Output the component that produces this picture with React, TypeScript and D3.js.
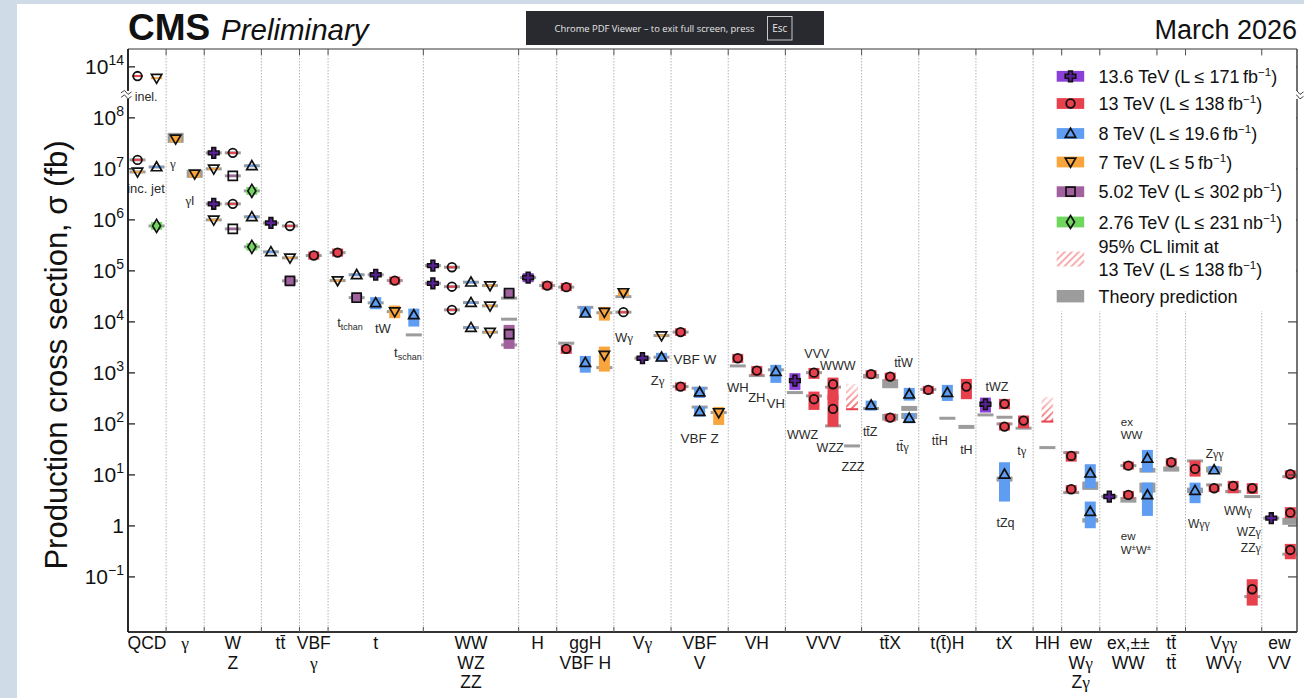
import React from "react";
import * as d3 from "d3";

const FONT = "'Liberation Sans', Arial, Helvetica, sans-serif";
const GREEK = "'Liberation Serif', 'DejaVu Serif', serif";
const W = 1304, H = 698;
const PL = 128, PR = 1297, PT = 49, PB = 632;

// ---------- categories (group edges in half-slot units) ----------
const groupEdges = [0, 4, 8, 14, 18, 21, 31, 41, 45, 51, 57, 63, 69, 77, 83, 89, 95, 98, 102, 108, 111, 119, 122.7];
const groupLabels: string[][] = [
  ["QCD"], ["γ"], ["W", "Z"], ["tt\u0304"], ["VBF", "γ"], ["t"], ["WW", "WZ", "ZZ"], ["H"],
  ["ggH", "VBF H"], ["Vγ"], ["VBF", "V"], ["VH"], ["VVV"], ["tt\u0304X"], ["t(t\u0304)H"], ["tX"],
  ["HH"], ["ew", "Wγ", "Zγ"], ["ex,±±", "WW"], ["tt\u0304", "tt\u0304"], ["Vγγ", "WVγ"], ["ew", "VV"],
];

// ---------- y ticks ----------
const yTickValues = [1e14, 1e8, 1e7, 1e6, 1e5, 1e4, 1e3, 1e2, 1e1, 1, 1e-1];
const yTickLabels: [string, string][] = [
  ["10", "14"], ["10", "8"], ["10", "7"], ["10", "6"], ["10", "5"], ["10", "4"],
  ["10", "3"], ["10", "2"], ["10", "1"], ["1", ""], ["10", "\u22121"],
];

// ---------- measurements: [position, value (fb), band low, band high] ----------
type Meas = [number, number, number?, number?];
const pts13p6: Meas[] = [
  [9, 2.06e7], [9, 2.06e6], [15, 8.7e5], [26, 8.4e4], [32, 1.27e5], [32, 5.7e4],
  [42, 7.4e4, 6.0e4, 9.0e4], [54, 1.94e3], [70, 706, 464, 986], [90, 243, 167, 328],
  [103, 3.76], [120, 1.42],
];
const pts13: Meas[] = [
  [1, 6.6e13], [1, 1.5e7], [11, 2.06e7], [11, 2.06e6], [17, 7.6e5],
  [19.5, 2.0e5, 1.66e5, 2.4e5], [22, 2.28e5, 1.9e5, 2.74e5], [28, 6.45e4, 5.4e4, 7.7e4],
  [34, 1.18e5], [34, 4.9e4], [34, 1.72e4], [44, 5.15e4, 4.3e4, 6.2e4],
  [46, 4.8e4, 4.0e4, 5.8e4], [46, 2.96e3, 2.36e3, 3.5e3], [52, 1.55e4],
  [58, 6.3e3, 5.3e3, 7.5e3], [58, 539, 450, 650], [64, 1.94e3, 1.57e3, 2.36e3],
  [66, 1.11e3, 885, 1.37e3], [72, 1.01e3, 763, 1.25e3], [72, 305, 188, 430],
  [74, 600, 296, 809], [74, 197, 88.5, 370], [78, 944, 790, 1.13e3],
  [80, 846, 710, 1.01e3], [80, 133, 111, 159], [84, 464, 387, 556], [88, 539, 305, 763],
  [92, 247, 194, 309], [92, 88.5, 74, 106], [94, 116, 82.4, 146],
  [99, 23.6, 18.2, 28.6], [99, 5.24, 4.4, 6.3], [105, 15.2, 12.7, 18.2], [105, 4.05, 3.4, 4.85],
  [109.5, 17.7, 14.6, 21.2], [112, 13.1, 9.26, 19.1], [114, 5.48, 4.6, 6.5],
  [116, 6.08, 4.38, 7.63], [118, 5.48, 4.24, 6.87], [118, 0.0574, 0.0274, 0.0901],
  [122, 10.3, 8.6, 12.3], [122, 1.82, 1.42, 2.33], [122, 0.338, 0.222, 0.444],
];
const pts8: Meas[] = [
  [3, 1.09e7], [13, 1.15e7], [13, 1.15e6], [15, 2.36e5], [24, 8.4e4],
  [26, 2.36e4, 1.77e4, 3.05e4], [30, 1.37e4, 8.09e3, 1.82e4],
  [36, 6.0e4], [36, 2.39e4], [36, 7.73e3], [48, 1.48e4, 1.24e4, 2.0e4],
  [48, 1.59e3, 1.01e3, 2.15e3], [56, 2.03e3, 1.67e3, 2.47e3], [60, 419, 323, 531],
  [60, 174, 139, 218], [68, 1.06e3, 637, 1.44e3], [78, 233, 182, 286], [82, 382, 286, 508],
  [82, 129, 103, 162], [86, 411, 282, 582], [92, 10.3, 3.0, 17.7], [101, 10.8, 5.48, 16.2],
  [101, 1.91, 0.9, 3.0], [107, 21.2, 11.3, 30.9], [107, 4.05, 1.57, 7.06],
  [112, 4.92, 2.79, 7.06], [114, 12.5, 10.8, 15.0],
];
const pts7: Meas[] = [
  [3, 6.0e13], [1, 8.73e6], [5, 3.87e7, 3.3e7, 4.5e7], [7, 7.98e6, 6.7e6, 9.5e6],
  [9, 1.0e7], [9, 1.0e6], [17, 1.8e5], [22, 6.45e4], [28, 1.59e4, 1.18e4, 2.09e4],
  [38, 5.15e4], [38, 2.06e4], [38, 6.28e3], [50, 1.55e4, 1.06e4, 1.97e4],
  [50, 2.22e3, 1.06e3, 3.28e3], [52, 3.76e4, 3.2e4, 4.4e4], [56, 5.38e3], [62, 167, 95.5, 215],
];
const pts5p02: Meas[] = [
  [11, 7.29e6], [11, 6.66e5], [17, 6.37e4, 5.3e4, 7.6e4], [24, 2.99e4, 2.5e4, 3.6e4],
  [40, 3.65e4, 3.05e4, 4.35e4], [40, 5.74e3, 2.96e3, 8.73e3],
];
const pts2p76: Meas[] = [
  [3, 7.62e5, 6.4e5, 9.1e5], [13, 3.7e6, 3.1e6, 4.4e6], [13, 2.96e5, 2.5e5, 3.5e5],
];

// ---------- 95% CL limits: [position, low, high] ----------
const limits: [number, number, number][] = [[76, 194, 608], [96.5, 111, 343]];

// ---------- theory predictions: [position, low, high] ----------
const theory: [number, number, number][] = [
  [1, 1.5e7, 1.5e7], [1, 8.7e6, 8.7e6], [3, 1.09e7, 1.09e7], [3, 7.6e5, 7.6e5],
  [5, 3.24e7, 5.08e7], [7, 6.67e6, 9.55e6],
  [9, 2.06e7, 2.06e7], [9, 1.0e7, 1.0e7], [9, 2.06e6, 2.06e6], [9, 1.0e6, 1.0e6],
  [11, 2.06e7, 2.06e7], [11, 7.3e6, 7.3e6], [11, 2.06e6, 2.06e6], [11, 6.66e5, 6.66e5],
  [13, 1.15e7, 1.15e7], [13, 3.7e6, 3.7e6], [13, 1.15e6, 1.15e6], [13, 2.96e5, 2.96e5],
  [15, 8.7e5, 8.7e5], [15, 2.36e5, 2.36e5], [17, 7.6e5, 7.6e5], [17, 1.8e5, 1.8e5], [17, 6.37e4, 6.37e4],
  [19.5, 2.0e5, 2.0e5], [22, 2.28e5, 2.28e5], [22, 6.45e4, 6.45e4], [24, 8.4e4, 8.4e4],
  [24, 2.99e4, 2.99e4], [26, 8.4e4, 8.4e4], [26, 2.36e4, 2.36e4], [28, 6.45e4, 6.45e4],
  [28, 1.59e4, 1.59e4], [30, 5.56e3, 5.56e3],
  [32, 1.27e5, 1.27e5], [32, 5.7e4, 5.7e4], [34, 1.18e5, 1.18e5], [34, 4.9e4, 4.9e4],
  [34, 1.72e4, 1.72e4], [36, 6.0e4, 6.0e4], [36, 2.39e4, 2.39e4], [36, 7.73e3, 7.73e3],
  [38, 5.15e4, 5.15e4], [38, 2.06e4, 2.06e4], [38, 6.28e3, 6.28e3], [40, 2.92e4, 2.92e4],
  [40, 1.13e4, 1.13e4], [40, 3.54e3, 3.54e3],
  [42, 7.4e4, 7.4e4], [44, 5.15e4, 5.15e4], [46, 4.8e4, 4.8e4], [46, 3.82e3, 3.82e3],
  [48, 1.8e4, 2.06e4], [50, 1.51e4, 1.51e4], [50, 1.27e3, 1.27e3],
  [52, 3.13e4, 3.13e4], [52, 1.55e4, 1.55e4], [54, 1.94e3, 1.94e3], [56, 5.38e3, 5.38e3], [56, 2.03e3, 2.03e3],
  [58, 6.3e3, 6.3e3], [58, 539, 539], [60, 501, 501], [60, 203, 225], [62, 167, 167],
  [64, 1.37e3, 1.37e3], [66, 885, 885], [68, 1.15e3, 1.15e3],
  [70, 411, 411], [72, 1.01e3, 1.01e3], [72, 354, 354], [74, 525, 525], [74, 91.4, 91.4], [76, 37, 37],
  [78, 773, 955], [78, 188, 215], [80, 501, 752], [80, 116, 157], [82, 180, 225], [82, 125, 164],
  [84, 444, 508], [86, 129, 129], [88, 79.8, 95.5],
  [90, 150, 150], [92, 135, 135], [92, 100, 100], [92, 7.39, 9.26], [94, 82.4, 82.4],
  [96.5, 34.3, 34.3], [99, 27.4, 27.4], [99, 4.5, 4.5], [101, 5.08, 7.39], [101, 1.16, 1.42],
  [103, 3.76, 3.76], [105, 15.2, 15.2], [105, 2.86, 3.7], [107, 11.1, 13.7], [107, 4.5, 7.06],
  [109.5, 11.6, 14.6], [112, 18.8, 18.8], [112, 4.38, 5.64], [114, 11.1, 14.6], [114, 6.37, 6.37],
  [116, 4.38, 5.08], [118, 3.76, 3.76], [118, 0.0411, 0.0411],
  [120, 1.42, 1.42], [122, 1.05, 1.44], [122, 9.26, 9.26], [122, 0.279, 0.279],
];

// ---------- annotations: [text, position, value, anchor, size] ----------
const annots: [string, number, number, string, number][] = [
  ["inel.", 0.7, 2.1e13, "start", 12.5], ["inc. jet", 1.89, 3.4e6, "middle", 13],
  ["γ", 4.72, 1.05e7, "middle", 13], ["γl", 6.5, 1.95e6, "middle", 13],
  ["tW", 26.76, 6.0e3, "middle", 13],
  ["Wγ", 52.05, 4.07e3, "middle", 13], ["Zγ", 55.6, 575, "middle", 13],
  ["VBF W", 59.5, 1.51e3, "middle", 13.5], ["VBF Z", 60.0, 42.7, "middle", 13.5],
  ["WH", 64, 427, "middle", 13], ["ZH", 66, 269, "middle", 13], ["VH", 68, 204, "middle", 13],
  ["VVV", 72.3, 1.95e3, "middle", 12.5], ["WWW", 74.5, 1.15e3, "middle", 12.5],
  ["WWZ", 70.8, 51, "middle", 12.5], ["WZZ", 73.7, 28, "middle", 12.5], ["ZZZ", 76.1, 12, "middle", 12.5],
  ["tt\u0304Z", 77.9, 57.5, "middle", 12.5], ["tt\u0304W", 81.4, 1.32e3, "middle", 12.5],
  ["tt\u0304γ", 81.3, 29.5, "middle", 12.5], ["tt\u0304H", 85.2, 38.9, "middle", 12.5],
  ["tH", 88.0, 25.7, "middle", 12.5], ["tWZ", 91.2, 447, "middle", 12.5],
  ["tZq", 92.1, 0.955, "middle", 12.5], ["tγ", 93.8, 24.5, "middle", 12.5],
  ["ex", 104.2, 91, "start", 11.5], ["WW", 104.2, 51, "start", 11.5],
  ["ew", 104.2, 0.537, "start", 11.5],
  ["Zγγ", 114.06, 21.4, "middle", 12], ["Wγγ", 112.4, 0.912, "middle", 12],
  ["WWγ", 116.5, 1.66, "middle", 12], ["WZγ", 118.9, 0.631, "end", 12], ["ZZγ", 118.9, 0.309, "end", 12],
];
// subscripted single-top labels: [main, sub, position, value]
const subAnnots: [string, string, number, number][] = [
  ["t", "tchan", 23.3, 7.9e3], ["t", "schan", 29.38, 2.04e3],
];

const legendRows = [
  { text: "13.6 TeV (L \u2264 171\u2009", unit: "fb" },
  { text: "13 TeV (L \u2264 138\u2009", unit: "fb" },
  { text: "8 TeV (L \u2264 19.6\u2009", unit: "fb" },
  { text: "7 TeV (L \u2264 5\u2009", unit: "fb" },
  { text: "5.02 TeV (L \u2264 302\u2009", unit: "pb" },
  { text: "2.76 TeV (L \u2264 231\u2009", unit: "nb" },
];

const series = [
  { color: "#8b3fd9", shape: "cross", data: pts13p6 },
  { color: "#e8414e", shape: "circle", data: pts13 },
  { color: "#5f9df2", shape: "up", data: pts8 },
  { color: "#f7a53c", shape: "down", data: pts7 },
  { color: "#a0619e", shape: "square", data: pts5p02 },
  { color: "#6fd65e", shape: "diamond", data: pts2p76 },
];

function rich(s: string) {
  return s.split(/(γ)/).filter((p) => p !== "").map((p, i) =>
    p === "γ" ? <tspan key={i} fontFamily={GREEK}>γ</tspan> : <tspan key={i}>{p}</tspan>
  );
}

function Marker({ shape, cx, cy, color }: { shape: string; cx: number; cy: number; color: string }) {
  const st = { stroke: "#111", strokeWidth: 1.7, fill: "none" } as any;
  if (shape === "circle") return <circle cx={cx} cy={cy} r={4.3} {...st} strokeWidth={1.8} />;
  let d = "";
  if (shape === "up") d = "M0,-5.2L5.2,3.8L-5.2,3.8Z";
  else if (shape === "down") d = "M0,5.2L5.2,-3.8L-5.2,-3.8Z";
  else if (shape === "square") d = "M-4.5,-4.5H4.5V4.5H-4.5Z";
  else if (shape === "diamond") d = "M0,-6.5L4,0L0,6.5L-4,0Z";
  else if (shape === "cross") d = "M-1.9,-5.3H1.9V-1.9H5.3V1.9H1.9V5.3H-1.9V1.9H-5.3V-1.9H-1.9Z";
  return <path d={d} transform={`translate(${cx},${cy})`} {...st} fill={shape === "cross" ? "#5a2196" : "none"} strokeWidth={shape === "cross" ? 1.6 : 1.7} />;
}

export default function App() {
  const x = d3.scaleLinear().domain([0, 122.7]).range([PL, PR]);
  const yBase = d3.scaleLog().domain([Math.pow(10, -2.08), Math.pow(10, 9.35)]).range([PB, PT]);
  const y = (v: number) => yBase(v > 1e10 ? v / 1e5 : v);
  const breakY = yBase(Math.pow(10, 8.45));

  const rectV = (lo: number, hi: number, minH: number) => {
    const a = y(hi), b = y(lo);
    let top = a, h = b - a;
    if (h < minH) { const c = (a + b) / 2; top = c - minH / 2; h = minH; }
    return { top, h };
  };

  const interior = groupEdges.slice(1, -1);
  const legendY = [76.3, 103.5, 133.5, 162, 191.7, 222];

  return (
    <svg width={W} height={H} style={{ position: "absolute", left: 0, top: 0 }} fontFamily={FONT}>
      <defs>
        <pattern id="hatch" width="5" height="5" patternUnits="userSpaceOnUse" patternTransform="rotate(45)">
          <line x1="1" y1="0" x2="1" y2="5" stroke="#ee5b60" strokeWidth="1.8" />
        </pattern>
        <linearGradient id="fadeG" x1="0" y1="0" x2="0" y2="1">
          <stop offset="0" stopColor="white" stopOpacity="0.25" />
          <stop offset="1" stopColor="white" stopOpacity="1" />
        </linearGradient>
        <mask id="fadeM" maskContentUnits="objectBoundingBox">
          <rect width="1" height="1" fill="url(#fadeG)" />
        </mask>
        <clipPath id="plotClip"><rect x={PL} y={PT} width={PR - PL} height={PB - PT} /></clipPath>
      </defs>

      <rect x={0} y={0} width={W} height={H} fill="#ffffff" />
      <rect x={0} y={0} width={17} height={H} fill="#cfdbe7" />
      <rect x={0} y={0} width={W} height={4} fill="#cfdbe7" />

      {/* separators */}
      {interior.map((e, i) => (
        <line key={"sep" + i} x1={x(e)} x2={x(e)} y1={PT} y2={PB} stroke="#b4b4b4" strokeWidth={1} strokeDasharray="1.5,1.5" />
      ))}

      <g clipPath="url(#plotClip)">
        {theory.map((t, i) => {
          const r = rectV(t[1], t[2], 3);
          return <rect key={"th" + i} x={x(t[0]) - 8} y={r.top} width={16} height={r.h} fill="#9c9c9c" />;
        })}
        {limits.map((l, i) => {
          const r = rectV(l[1], l[2], 3);
          return (
            <g key={"lim" + i}>
              <rect x={x(l[0]) - 6} y={r.top} width={12} height={r.h} fill="url(#hatch)" mask="url(#fadeM)" />
              <line x1={x(l[0]) - 6} x2={x(l[0]) + 6} y1={y(l[1])} y2={y(l[1])} stroke="#e8414e" strokeWidth={2} />
            </g>
          );
        })}
        {series.map((s, si) => s.data.map((d, i) => {
          const lo = d[2] ?? d[1], hi = d[3] ?? d[1];
          const r = rectV(lo, hi, 2);
          return <rect key={`b${si}-${i}`} x={x(d[0]) - 5.5} y={r.top} width={11} height={r.h} fill={s.color} />;
        }))}
        {series.map((s, si) => s.data.map((d, i) => (
          <Marker key={`m${si}-${i}`} shape={s.shape} cx={x(d[0])} cy={y(d[1])} color={s.color} />
        )))}
      </g>

      {/* annotations */}
      {annots.map((a, i) => (
        <text key={"an" + i} x={x(a[1])} y={y(a[2])} textAnchor={a[3] as any} fontSize={a[4]} fill="#2a2a2a">{rich(a[0])}</text>
      ))}
      <text x={x(104.2)} y={y(0.282)} fontSize={11.5} fill="#2a2a2a">
        W<tspan fontSize={8} dy={-4}>±</tspan><tspan dy={4}>W</tspan><tspan fontSize={8} dy={-4}>±</tspan>
      </text>
      {subAnnots.map((a, i) => (
        <text key={"sa" + i} x={x(a[2])} y={y(a[3])} textAnchor="middle" fontSize={13} fill="#2a2a2a">
          {a[0]}<tspan fontSize={9} dy={3}>{a[1]}</tspan>
        </text>
      ))}

      {/* frame */}
      <line x1={PL} x2={PR} y1={PT} y2={PT} stroke="#777" strokeWidth={1.3} />
      <line x1={PR} x2={PR} y1={PT} y2={PB} stroke="#444" strokeWidth={1.5} />
      <line x1={PL} x2={PR} y1={PB} y2={PB} stroke="#333" strokeWidth={2} />
      <line x1={PL} x2={PL} y1={PT} y2={PB} stroke="#111" strokeWidth={1.8} />
      {interior.map((e, i) => (
        <g key={"tk" + i}>
          <line x1={x(e)} x2={x(e)} y1={PT} y2={PT + 6} stroke="#555" strokeWidth={1} />
          <line x1={x(e)} x2={x(e)} y1={PB} y2={PB - 5} stroke="#555" strokeWidth={1} />
        </g>
      ))}

      {/* y ticks and labels */}
      {yTickValues.map((v, i) => (
        <g key={"yt" + i}>
          <line x1={PL} x2={PL + 7} y1={y(v)} y2={y(v)} stroke="#222" strokeWidth={1.3} />
          <line x1={PR - 9} x2={PR} y1={y(v)} y2={y(v)} stroke="#444" strokeWidth={1.2} />
          <text x={PL - 4} y={y(v) + 7.5} textAnchor="end" fontSize={21} fill="#111">
            {yTickLabels[i][0]}
            {yTickLabels[i][1] && <tspan fontSize={14} dy={-9}>{yTickLabels[i][1]}</tspan>}
          </text>
        </g>
      ))}
      {/* axis break marks */}
      <g stroke="#444" strokeWidth={1} fill="none">
        <rect x={PL - 1.5} y={breakY - 4} width={3} height={8} fill="#fff" stroke="none" />
        <path d={`M${PL - 7},${breakY - 2} l3.5,-2.5 l3.5,4 l3.5,-2.5`} />
        <path d={`M${PL - 7},${breakY + 2.5} l3.5,-2.5 l3.5,4 l3.5,-2.5`} />
        <rect x={PR - 1.5} y={breakY - 4} width={3} height={8} fill="#fff" stroke="none" />
        <path d={`M${PR - 4},${breakY - 2} l3.5,-2.5 l3.5,4 l3.5,-2.5`} />
        <path d={`M${PR - 4},${breakY + 2.5} l3.5,-2.5 l3.5,4 l3.5,-2.5`} />
      </g>

      {/* x group labels */}
      {groupLabels.map((lines, i) => {
        const cx = (x(groupEdges[i]) + x(groupEdges[i + 1])) / 2;
        return lines.map((t, j) => (
          <text key={`gl${i}-${j}`} x={cx} y={649 + j * 19.5} textAnchor="middle" fontSize={17.5} fill="#111">{rich(t)}</text>
        ));
      })}

      {/* y title */}
      <text transform="translate(67,355) rotate(-90)" textAnchor="middle" fontSize={31} fill="#111">
        Production cross section, σ (fb)
      </text>

      {/* header */}
      <text x={128} y={40} fontSize={37} fontWeight="bold" fill="#111">CMS</text>
      <text x={221} y={40} fontSize={29.5} fontStyle="italic" fill="#111">Preliminary</text>
      <text x={1297} y={39} textAnchor="end" fontSize={27} fill="#111">March 2026</text>

      {/* legend */}
      <rect x={1042} y={56} width={PR - 1043} height={255} fill="#fff" />
      {legendRows.map((r, i) => (
        <g key={"lg" + i}>
          <rect x={1056.7} y={legendY[i] - 5.4} width={27.5} height={10.8} fill={series[i].color} />
          <Marker shape={series[i].shape} cx={1070.5} cy={legendY[i]} color={series[i].color} />
          <text x={1098.5} y={legendY[i] + 6.5} fontSize={18} fill="#111">
            {r.text}{r.unit}<tspan fontSize={11.5} dy={-7}>{"\u22121"}</tspan><tspan dy={7}>)</tspan>
          </text>
        </g>
      ))}
      <rect x={1056.7} y={251.5} width={27.5} height={15} fill="url(#hatch)" opacity={0.55} />
      <text x={1098.5} y={253} fontSize={18} fill="#111">95% CL limit at</text>
      <text x={1098.5} y={275.5} fontSize={18} fill="#111">
        13 TeV (L {"\u2264"} 138{"\u2009"}fb<tspan fontSize={11.5} dy={-7}>{"\u22121"}</tspan><tspan dy={7}>)</tspan>
      </text>
      <rect x={1056.7} y={290} width={27.5} height={12.4} fill="#9c9c9c" />
      <text x={1098.5} y={303} fontSize={18} fill="#111">Theory prediction</text>

      {/* viewer overlay */}
      <rect x={526} y={11} width={298} height={34} fill="#292a2f" />
      <text x={554.5} y={31.5} fontSize={9.4} fill="#e6e6e6" fontFamily="'Open Sans', 'Noto Sans', sans-serif">
        Chrome PDF Viewer – to exit full screen, press
      </text>
      <rect x={767.5} y={16.5} width={24.5} height={23.5} fill="none" stroke="#c8c8c8" strokeWidth={1} />
      <text x={779.7} y={31.5} textAnchor="middle" fontSize={10} fill="#e6e6e6" fontFamily="'Open Sans', 'Noto Sans', sans-serif">Esc</text>
    </svg>
  );
}
